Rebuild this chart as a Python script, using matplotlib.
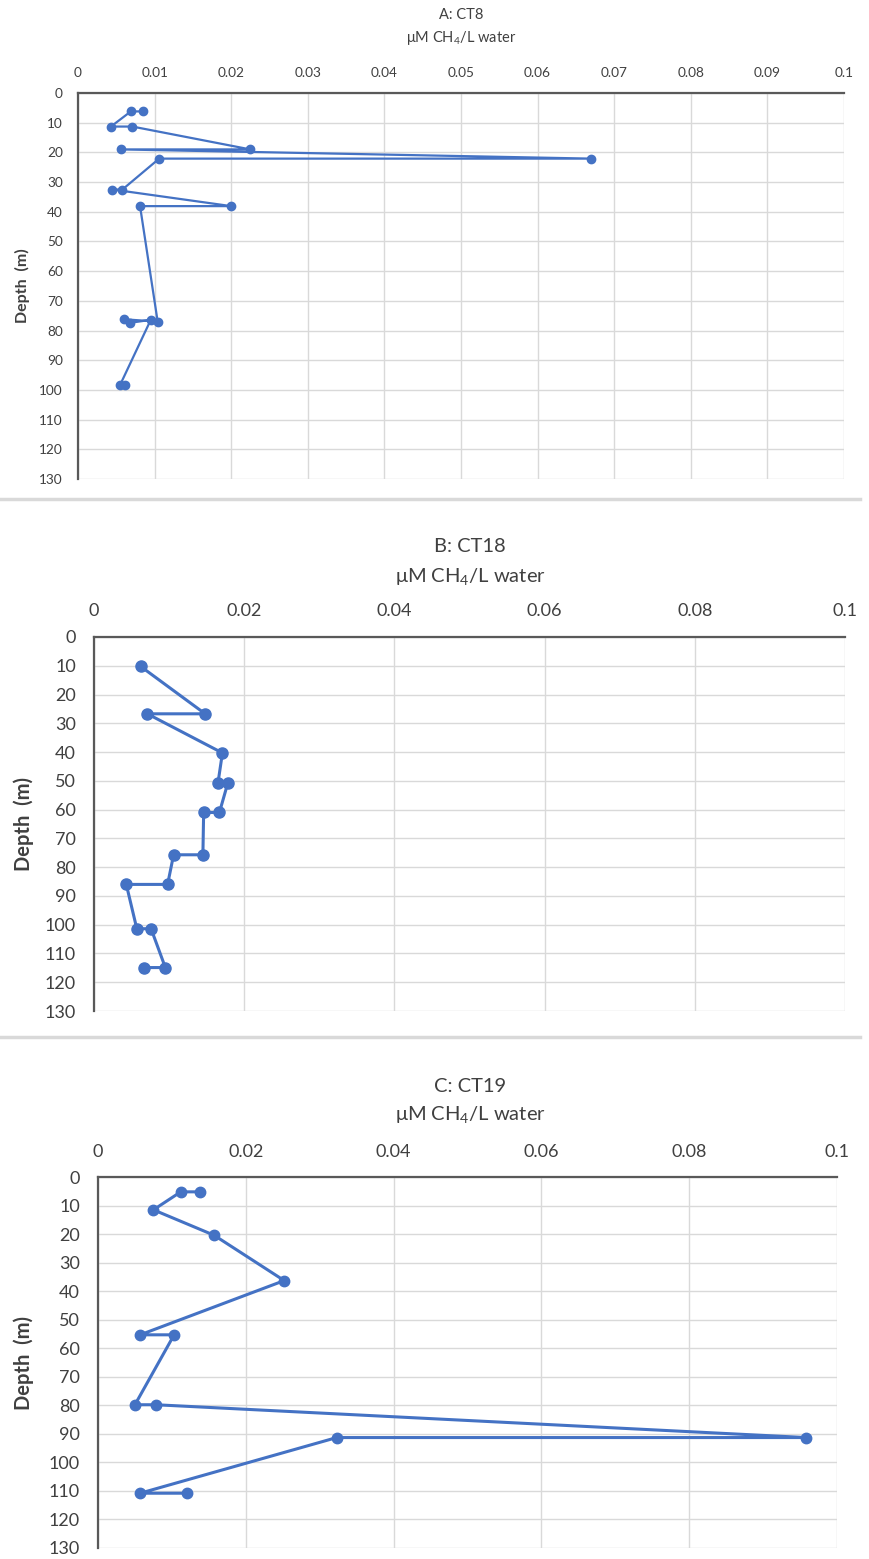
import matplotlib
matplotlib.use("Agg")
import matplotlib.pyplot as plt
from matplotlib.lines import Line2D
from matplotlib.ticker import MultipleLocator

plt.rcParams['font.family'] = ['Lato', 'DejaVu Sans']
plt.rcParams['mathtext.fontset'] = 'custom'
plt.rcParams['mathtext.rm'] = 'Lato'

# ---- data ----
a_title = "A: CT8"
a_conc = [0.0085, 0.0069, 0.0043, 0.0071, 0.0225, 0.0056, 0.0670, 0.0106,
          0.0058, 0.0045, 0.0200, 0.0081, 0.0104, 0.0060, 0.0068, 0.0095,
          0.0055, 0.0062]
a_depth = [6.2, 6.2, 11.3, 11.3, 19.0, 19.0, 22.1, 22.1,
           32.5, 32.5, 38.1, 38.1, 77.0, 76.2, 77.4, 76.4,
           98.3, 98.3]

b_title = "B: CT18"
b_conc = [0.0062, 0.0148, 0.0071, 0.0171, 0.0165, 0.0178, 0.0167, 0.0146,
          0.0145, 0.0106, 0.0098, 0.0043, 0.0057, 0.0076, 0.0095, 0.0066]
b_depth = [10.2, 26.7, 26.7, 40.3, 50.9, 50.9, 61.0, 61.0,
           75.7, 75.7, 86.0, 86.0, 101.4, 101.4, 114.9, 114.9]

c_title = "C: CT19"
c_conc = [0.0138, 0.0112, 0.0075, 0.0157, 0.0252, 0.0057, 0.0103, 0.0050,
          0.0078, 0.0958, 0.0323, 0.0057, 0.0121]
c_depth = [5.2, 5.2, 11.5, 20.4, 36.3, 55.3, 55.3, 79.8,
           79.8, 91.3, 91.3, 110.8, 110.8]

x_label = "\u03bcM CH$_\\mathregular{4}$/L water"
y_label = "Depth  (m)"

W, H = 869, 1559
fig = plt.figure(figsize=(W / 100, H / 100), dpi=100)
fig.patch.set_facecolor('white')

BLUE = '#4472C4'
TXT = '#404040'
GRID = '#d9d9d9'


def rect(l, r, t, b):
    return [l / W, 1 - b / H, (r - l) / W, (b - t) / H]


def panel(box, conc, depth, title, xstep, fs, tfs, yfs, xpad, ypad, ms, lw,
          title_y, sub_y, ylab_x, cx):
    ax = fig.add_axes(rect(*box))
    ax.plot(conc, depth, color=BLUE, marker='o', ms=ms, lw=lw,
            markeredgecolor=BLUE, markerfacecolor=BLUE, clip_on=False, zorder=3)
    ax.set_xlim(0, 0.1)
    ax.set_ylim(130, 0)
    ax.xaxis.set_major_locator(MultipleLocator(xstep))
    ax.yaxis.set_major_locator(MultipleLocator(10))
    ax.xaxis.tick_top()
    ax.xaxis.set_major_formatter(plt.FuncFormatter(
        lambda v, p: '0' if abs(v) < 1e-12 else ('%.2f' % v).rstrip('0').rstrip('.')))
    ax.tick_params(axis='both', length=0, labelsize=fs, colors=TXT)
    ax.tick_params(axis='x', pad=xpad)
    ax.tick_params(axis='y', pad=ypad)
    ax.grid(True, color=GRID, lw=1.0)
    ax.set_axisbelow(True)
    for s in ['right', 'bottom']:
        ax.spines[s].set_visible(False)
    for s in ['left', 'top']:
        ax.spines[s].set_color('#595959')
        ax.spines[s].set_linewidth(1.6)
    fig.text(cx / W, 1 - title_y / H, title, ha='center', va='center',
             fontsize=tfs, color=TXT)
    fig.text(cx / W, 1 - sub_y / H, x_label, ha='center', va='center',
             fontsize=tfs, color=TXT)
    fig.text(ylab_x / W, 1 - ((box[2] + box[3]) / 2) / H, y_label,
             rotation=90, ha='center', va='center', fontsize=yfs,
             color=TXT, fontweight='bold')
    return ax


panel((78, 844, 93, 479), a_conc, a_depth, a_title, 0.01, 9.8, 10.5, 11.5, 10, 11,
      6, 1.6, 15, 38, 22, 461)
panel((94, 845, 637, 1011), b_conc, b_depth, b_title, 0.02, 13, 14.5, 14.5, 13, 13,
      8, 2.2, 547, 577, 24, 470)
panel((98, 837, 1177, 1548), c_conc, c_depth, c_title, 0.02, 13, 14.5, 14.5, 12, 13,
      7.5, 2.2, 1086, 1115, 24, 470)

for yy in (499, 1037):
    fig.add_artist(Line2D([0, 0.99], [1 - yy / H, 1 - yy / H], color=GRID,
                          lw=2.5, transform=fig.transFigure))

fig.savefig('out.png', dpi=100, facecolor='white')
